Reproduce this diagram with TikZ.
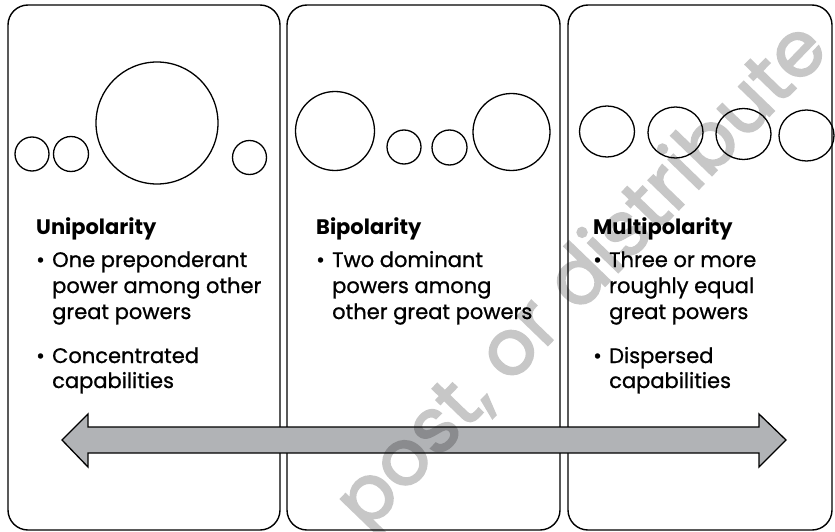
\documentclass[tikz,border=0pt]{standalone}
\usepackage{fontspec}
\setmainfont{Poppins}[UprightFeatures={FakeBold=0.9}]
\newfontfamily\wmfont{Poppins}[FakeBold=2.4]
\definecolor{arrowgray}{HTML}{B1B3B6}
\begin{document}
\begin{tikzpicture}[x=1pt,y=-1pt,
  panel/.style={draw=black,line width=1.4pt,rounded corners=20pt},
  ring/.style={draw=black,line width=1.3pt},
  txt/.style={anchor=base west,inner sep=0pt,font=\fontsize{21}{26}\selectfont},
  head/.style={txt,font=\fontsize{21}{26}\selectfont\bfseries},
  bigarrow/.style={draw=black,line width=1.3pt,fill=arrowgray,line join=miter},
  watermark/.style={rotate=46,text=black,font=\wmfont\fontsize{77}{77}\selectfont,inner sep=0pt}]
\useasboundingbox (0,0) rectangle (835,532);
\fill[white] (0,0) rectangle (835,532);
% panels
\draw[panel] (8,5) rectangle (280,530);
\draw[panel] (287,5) rectangle (560,530);
\draw[panel] (568,5) rectangle (832,530);
% circles panel 1
\draw[ring] (32,154) circle (17);
\draw[ring] (71,154) circle (17.5);
\draw[ring] (157,123) circle (61);
\draw[ring] (249.5,157.5) circle (17);
% circles panel 2
\draw[ring] (335,131) circle (39.5);
\draw[ring] (404,147) circle (17);
\draw[ring] (449.5,147.5) circle (17.5);
\draw[ring] (511.5,132) circle (38.5);
% circles panel 3
\draw[ring] (607,131.5) ellipse (27.5 and 25.5);
\draw[ring] (675.5,132.5) ellipse (27.5 and 25.5);
\draw[ring] (743.5,134) ellipse (27.5 and 25.5);
\draw[ring] (806.5,135.5) ellipse (27.5 and 25.5);
% panel 1 text
\node[head] (h1) at (36,234) {Unipolarity};
\node[txt] (b1a) at (36,267) {•};
\node[txt] (t1a) at (52,267) {One preponderant};
\node[txt] (t1b) at (52,293) {power among other};
\node[txt] (t1c) at (52,319) {great powers};
\node[txt] (b1b) at (36,363) {•};
\node[txt] (t1d) at (52,363) {Concentrated};
\node[txt] (t1e) at (52,388) {capabilities};
% panel 2 text
\node[head] (h2) at (316,234) {Bipolarity};
\node[txt] (b2a) at (316,267) {•};
\node[txt] (t2a) at (332,267) {Two dominant};
\node[txt] (t2b) at (332,293) {powers among};
\node[txt] (t2c) at (332,319) {other great powers};
% panel 3 text
\node[head] (h3) at (593,234) {Multipolarity};
\node[txt] (b3a) at (593,267) {•};
\node[txt] (t3a) at (609,267) {Three or more};
\node[txt] (t3b) at (609,293) {roughly equal};
\node[txt] (t3c) at (609,319) {great powers};
\node[txt] (b3b) at (593,363) {•};
\node[txt] (t3d) at (609,363) {Dispersed};
\node[txt] (t3e) at (609,388) {capabilities};
% double arrow
\draw[bigarrow] (62,440) -- (88,414) -- (88,427) -- (759,427) -- (759,414) -- (786,440)
  -- (759,467) -- (759,453) -- (88,453) -- (88,467) -- cycle;
% watermark
\begin{scope}[transparency group,opacity=0.22]
\node[watermark] (wm) at (585,279) {post, or distribute};
\end{scope}
\end{tikzpicture}
\end{document}
